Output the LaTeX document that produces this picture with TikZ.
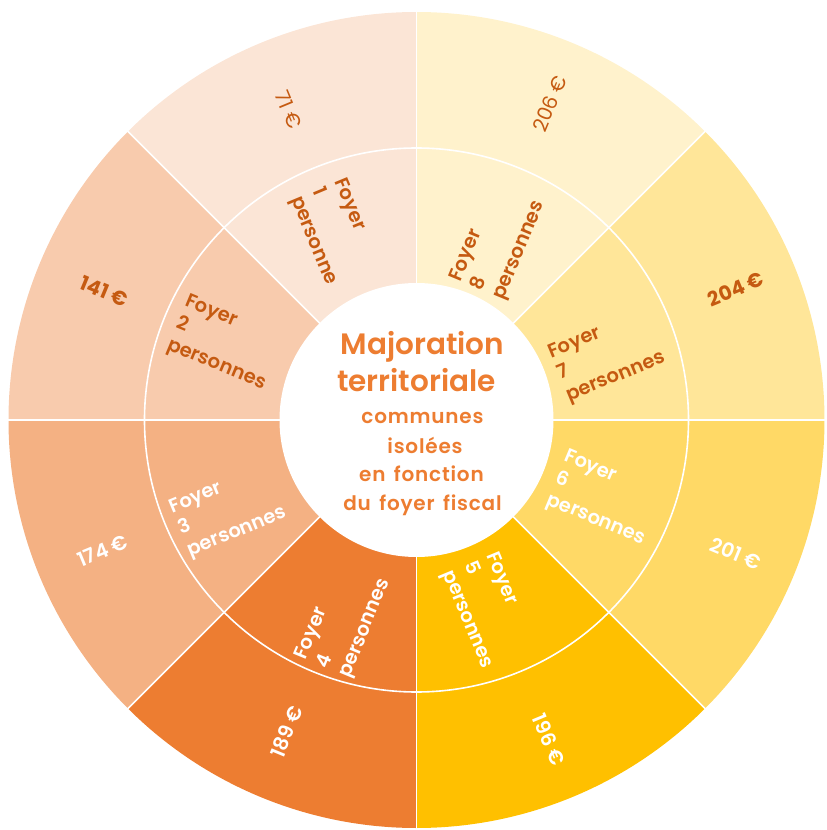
\documentclass[tikz,border=0pt]{standalone}
\usepackage{fontspec}
\setmainfont{Poppins}
\newfontfamily\psemi{Poppins SemiBold}
\newfontfamily\psemils{Poppins SemiBold}[LetterSpace=4]
\newfontfamily\pbold{Poppins Bold}
\newfontfamily\preg{Poppins}
\newcommand\widesp{\spaceskip=0.42em plus 0.1em\relax}
\definecolor{s1}{HTML}{FBE5D6}
\definecolor{s2}{HTML}{F8CBAD}
\definecolor{s3}{HTML}{F4B183}
\definecolor{s4}{HTML}{ED7D31}
\definecolor{s5}{HTML}{FFC000}
\definecolor{s6}{HTML}{FFD966}
\definecolor{s7}{HTML}{FFE699}
\definecolor{s8}{HTML}{FFF2CC}
\definecolor{darktxt}{HTML}{C55A11}
\definecolor{titletxt}{HTML}{ED7D31}
\tikzset{
  sep/.style={draw=white, line width=1.6pt},
  foyer/.style={font=\psemi\fontsize{19.5}{23.5}\selectfont, align=left, inner sep=0pt},
  price/.style={inner sep=0pt},
  dk/.style={text=darktxt},
  wt/.style={text=white},
  big/.style={text=titletxt, anchor=base, inner sep=0pt, font=\psemi\fontsize{29.5}{34}\selectfont},
  small/.style={text=titletxt, anchor=base, inner sep=0pt,
    font=\psemils\fontsize{20}{24}\selectfont},
}
\begin{document}
\begin{tikzpicture}[x=1pt,y=1pt]
\useasboundingbox (-416.5pt,-410pt) rectangle (410.5pt,420pt);
% sectors
\foreach \k/\c in {1/s1,2/s2,3/s3,4/s4,5/s5,6/s6,7/s7,8/s8}{
  \pgfmathsetmacro\aa{90+45*(\k-1)}
  \pgfmathsetmacro\ab{90+45*\k}
  \fill[\c] (0,0) -- (\aa:408pt) arc[start angle=\aa, end angle=\ab, radius=408pt] -- cycle;
}
% separators
\foreach \a in {0,45,...,315}{
  \draw[sep] (0,0) -- (\a:409pt);
}
\draw[sep] (0,0) circle[radius=272pt];
\fill[white] (0,0) circle[radius=137pt];
% centre text
\node[big] (t1) at (6pt,65pt) {Majoration};
\node[big] (t2) at (0pt,28.3pt) {territoriale};
\node[small] (t3) at (6pt,-3pt) {communes};
\node[small] (t4) at (8.5pt,-33pt) {isolées};
\node[small] (t5) at (5pt,-61.7pt) {\widesp en fonction};
\node[small] (t6) at (6pt,-90pt) {\widesp du foyer fiscal};
% foyer labels
\node[foyer,dk,rotate=-67.5] (f1) at (113.5:205pt) {Foyer\\1\\personne};
\node[foyer,dk,rotate=-22.5] (f2) at (158.2:206pt) {Foyer\\2\\personnes};
\node[foyer,wt,rotate=22.5] (f3) at (205.8:209pt) {Foyer\\3\\personnes};
\node[foyer,wt,rotate=67.5] (f4) at (250:212.5pt) {Foyer\\4\\personnes};
\node[foyer,wt,rotate=-67.5] (f5) at (290.7:204pt) {Foyer\\5\\personnes};
\node[foyer,wt,rotate=-22.5] (f6) at (337.3:204pt) {Foyer\\6\\personnes};
\node[foyer,dk,rotate=22.5] (f7) at (18.6:201pt) {Foyer\\7\\personnes};
\node[foyer,dk,rotate=67.5] (f8) at (65.4:196pt) {Foyer\\8\\personnes};
% prices
\node[price,dk,rotate=-67.5,font=\preg\fontsize{20}{24}\selectfont] (p1) at (112.4:336pt) {71 €};
\node[price,dk,rotate=-22.5,font=\pbold\fontsize{20}{24}\selectfont] (p2) at (157.6:338pt) {141 €};
\node[price,wt,rotate=22.5,font=\psemi\fontsize{20}{24}\selectfont] (p3) at (202.6:340pt) {174 €};
\node[price,wt,rotate=67.5,font=\psemi\fontsize{20}{24}\selectfont] (p4) at (247.4:338pt) {189 €};
\node[price,wt,rotate=-67.5,font=\psemi\fontsize{20}{24}\selectfont] (p5) at (292.5:346pt) {196 €};
\node[price,wt,rotate=-22.5,font=\psemi\fontsize{20}{24}\selectfont] (p6) at (337.3:346pt) {201 €};
\node[price,dk,rotate=22.5,font=\pbold\fontsize{20}{24}\selectfont] (p7) at (22.3:345pt) {204 €};
\node[price,dk,rotate=67.5,font=\preg\fontsize{20}{24}\selectfont] (p8) at (67.2:343pt) {206 €};
\end{tikzpicture}
\end{document}
